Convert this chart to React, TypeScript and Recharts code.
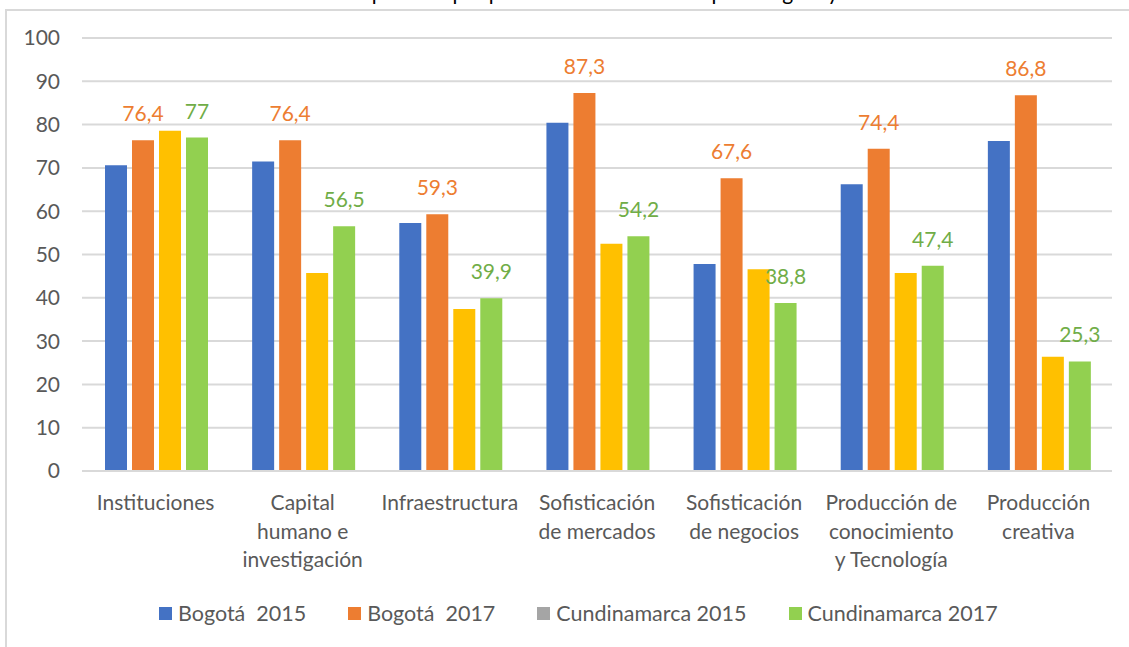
import React from 'react';
import { Bar, BarChart, CartesianGrid, LabelList, XAxis, YAxis } from 'recharts';

const categories = [
    'Instituciones',
    'Capital humano e investigación',
    'Infraestructura',
    'Sofisticación de mercados',
    'Sofisticación de negocios',
    'Producción de conocimiento y Tecnología',
    'Producción creativa',
];
const tickLines = [
    ['Instituciones'],
    ['Capital', 'humano e', 'investigación'],
    ['Infraestructura'],
    ['Sofisticación', 'de mercados'],
    ['Sofisticación', 'de negocios'],
    ['Producción de', 'conocimiento', 'y Tecnología'],
    ['Producción', 'creativa'],
];
const bogota2015 = [70.6, 71.5, 57.3, 80.4, 47.8, 66.2, 76.2];
const bogota2017 = [76.4, 76.4, 59.3, 87.3, 67.6, 74.4, 86.8];
const cundinamarca2015 = [78.6, 45.7, 37.4, 52.5, 46.6, 45.7, 26.4];
const cundinamarca2017 = [77, 56.5, 39.9, 54.2, 38.8, 47.4, 25.3];
const yTicks = [0, 10, 20, 30, 40, 50, 60, 70, 80, 90, 100];

const legendNames = ['Bogotá\u00a0 2015', 'Bogotá\u00a0 2017', 'Cundinamarca 2015', 'Cundinamarca 2017'];
const legendColors = ['#4472C4', '#ED7D31', '#A5A5A5', '#92D050'];

const chartData = categories.map((name, i) => ({
    name,
    b15: bogota2015[i],
    b17: bogota2017[i],
    c15: cundinamarca2015[i],
    c17: cundinamarca2017[i],
}));

const FONT = 'Lato, "Open Sans", sans-serif';
const GREY = '#595959';

const fmt = (v: any) => String(v).replace('.', ',');

const CategoryTick = (props: any) => {
    const { x, y, index } = props;
    const lines = tickLines[index] || [];
    return (
        <text x={x} y={y + 31} textAnchor='middle' fill={GREY} fontSize={21} fontFamily={FONT}>
            {lines.map((l, i) => (
                <tspan key={i} x={x} dy={i === 0 ? 0 : 28.5}>{l}</tspan>
            ))}
        </text>
    );
};

const App = () => {
    return (
        <div style={{ position: 'fixed', top: 0, left: 0, width: 1129, height: 647, overflow: 'hidden', background: '#fff', fontFamily: FONT }}>
            <div style={{ position: 'absolute', top: -20, left: 0, width: 1129, height: 24, lineHeight: '24px', fontSize: 21, color: '#000', textAlign: 'center', whiteSpace: 'nowrap', paddingLeft: 40 }}>
                Gráfico 1. Comparativo por pilares IDIC 2015-2017 para Bogotá y Cundinamarca
            </div>
            <div style={{ position: 'absolute', top: 9, left: 5, width: 1140, height: 660, borderTop: '2px solid #D9D9D9', borderLeft: '2px solid #D9D9D9' }} />
            <div style={{ position: 'absolute', top: 0, left: 0 }}>
                <BarChart width={1129} height={647} data={chartData}
                    margin={{ top: 38, right: 17, bottom: 0, left: 0 }}
                    barCategoryGap={23} barGap={5}>
                    <CartesianGrid vertical={false} stroke='#D9D9D9' strokeWidth={2} />
                    <XAxis dataKey='name' height={176} interval={0} tickLine={false}
                        axisLine={{ stroke: '#D9D9D9', strokeWidth: 2 }} tick={<CategoryTick />} />
                    <YAxis width={82} domain={[0, 100]} ticks={yTicks} interval={0}
                        axisLine={false} tickLine={false} tickSize={0} tickMargin={22}
                        tick={{ fill: GREY, fontSize: 21, fontFamily: FONT }} />
                    <Bar dataKey='b15' fill='#4472C4' isAnimationActive={false} />
                    <Bar dataKey='b17' fill='#ED7D31' isAnimationActive={false}>
                        <LabelList dataKey='b17' position='top' offset={19} formatter={fmt}
                            fill='#ED7D31' fontSize={21} fontFamily={FONT} />
                    </Bar>
                    <Bar dataKey='c15' fill='#FFC000' isAnimationActive={false} />
                    <Bar dataKey='c17' fill='#92D050' isAnimationActive={false}>
                        <LabelList dataKey='c17' position='top' offset={19} formatter={fmt}
                            fill='#70AD47' fontSize={21} fontFamily={FONT} />
                    </Bar>
                </BarChart>
            </div>
            <div style={{ position: 'absolute', top: 600, left: 159, display: 'flex', alignItems: 'center', gap: 42, fontSize: 21.5, color: GREY, height: 26 }}>
                {legendNames.map((n, i) => (
                    <div key={n} style={{ display: 'flex', alignItems: 'center' }}>
                        <span style={{ width: 13, height: 13, background: legendColors[i], marginRight: 6, display: 'inline-block' }} />
                        <span style={{ whiteSpace: 'pre' }}>{n}</span>
                    </div>
                ))}
            </div>
        </div>
    );
};

export default App;
